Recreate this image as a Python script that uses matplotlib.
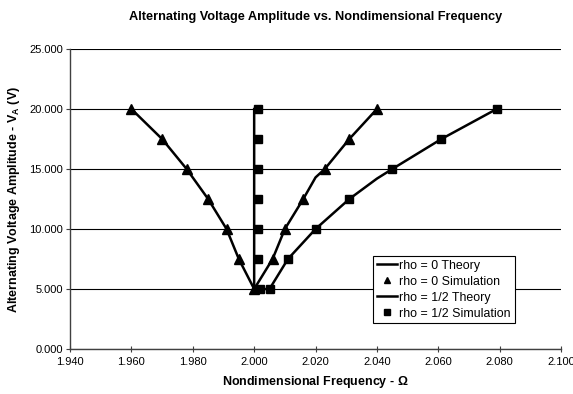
import numpy as np
import matplotlib.pyplot as plt

plt.rcParams['font.family'] = ['Liberation Sans', 'DejaVu Sans']
plt.rcParams['mathtext.fontset'] = 'custom'
plt.rcParams['mathtext.rm'] = 'Liberation Sans'
plt.rcParams['mathtext.bf'] = 'Liberation Sans:bold'

# rho = 0
theory0_x = [1.960, 1.970, 1.978, 1.985, 1.991, 1.995, 2.000, 2.006, 2.010, 2.016, 2.020, 2.023, 2.031, 2.040]
theory0_y = [20.0, 17.5, 15.0, 12.5, 10.0, 7.5, 5.0, 7.5, 10.0, 12.5, 14.3, 15.0, 17.5, 20.0]
sim0_x = [1.960, 1.970, 1.978, 1.985, 1.991, 1.995, 2.000, 2.006, 2.010, 2.016, 2.023, 2.031, 2.040]
sim0_y = [20.0, 17.5, 15.0, 12.5, 10.0, 7.5, 5.0, 7.5, 10.0, 12.5, 15.0, 17.5, 20.0]

# rho = 1/2
theory12_x = [2.000, 2.000, 2.005, 2.011, 2.020, 2.031, 2.040, 2.045, 2.061, 2.079]
theory12_y = [20.0, 5.0, 5.0, 7.5, 10.0, 12.5, 14.2, 15.0, 17.5, 20.0]
sim12_x = [2.0012, 2.0012, 2.0012, 2.0012, 2.0012, 2.0012, 2.002, 2.005, 2.011, 2.020, 2.031, 2.045, 2.061, 2.079]
sim12_y = [20.0, 17.5, 15.0, 12.5, 10.0, 7.5, 5.0, 5.0, 7.5, 10.0, 12.5, 15.0, 17.5, 20.0]

xticks = [1.94, 1.96, 1.98, 2.00, 2.02, 2.04, 2.06, 2.08, 2.10]
yticks = [0, 5, 10, 15, 20, 25]

fig = plt.figure(figsize=(5.73, 3.94), dpi=100)
ax = fig.add_axes([0.1222, 0.1142, 0.857, 0.7614])

ax.plot(theory0_x, theory0_y, color='black', lw=1.8, label='rho = 0 Theory', zorder=3)
ax.plot(sim0_x, sim0_y, ls='none', marker='^', ms=6.5, color='black', label='rho = 0 Simulation', zorder=4)
ax.plot(theory12_x, theory12_y, color='black', lw=1.8, label='rho = 1/2 Theory', zorder=3)
ax.plot(sim12_x, sim12_y, ls='none', marker='s', ms=5.5, color='black', label='rho = 1/2 Simulation', zorder=4)

ax.set_xlim(1.94, 2.10)
ax.set_ylim(0, 25)
ax.set_xticks(xticks)
ax.set_yticks(yticks)
ax.set_xticklabels([f"{v:.3f}" for v in xticks], fontsize=8)
ax.set_yticklabels([f"{v:.3f}" for v in yticks], fontsize=8)
ax.yaxis.grid(True, color='black', lw=0.8)
ax.set_axisbelow(True)
for s in ['top', 'right']:
    ax.spines[s].set_visible(False)
for s in ['left', 'bottom']:
    ax.spines[s].set_color('#404040')
    ax.spines[s].set_linewidth(1.0)
ax.tick_params(axis='x', direction='inout', length=5, width=0.8, colors='#404040', labelcolor='black', pad=3)
ax.tick_params(axis='y', direction='out', length=3, width=0.8, colors='#404040', labelcolor='black', pad=2)

ax.set_title('Alternating Voltage Amplitude vs. Nondimensional Frequency',
             fontsize=9.2, fontweight='bold', pad=21)
ax.set_xlabel('Nondimensional Frequency - $\\mathbf{\\Omega}$', fontsize=9, fontweight='bold', labelpad=5)
ax.set_ylabel('Alternating Voltage Amplitude - V$_\\mathbf{A}$ (V)', fontsize=9, fontweight='bold', labelpad=5)

leg = ax.legend(loc='upper left', bbox_to_anchor=(0.618, 0.310), fontsize=8.9, frameon=True,
                fancybox=False, framealpha=1, edgecolor='black', handlelength=1.6,
                handletextpad=0.2, borderpad=0.3, labelspacing=0.32, borderaxespad=0,
                markerscale=0.75)
leg.get_frame().set_linewidth(0.8)

fig.savefig('out.png', dpi=100)
